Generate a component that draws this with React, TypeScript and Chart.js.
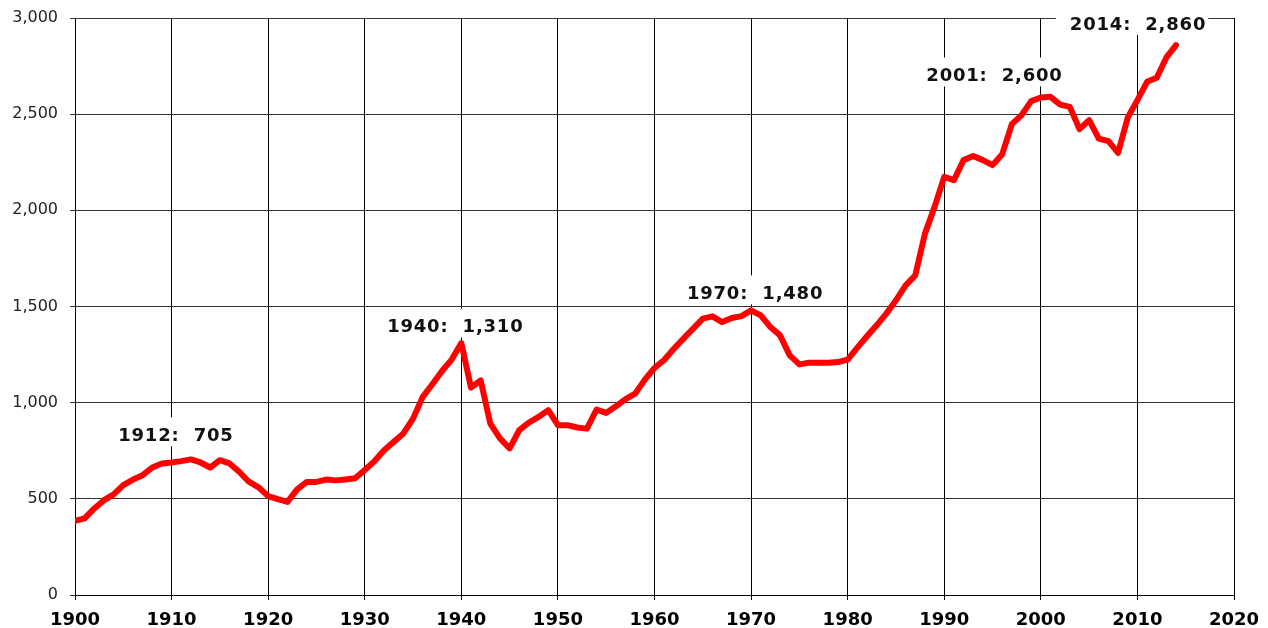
import React, { useEffect, useRef } from "react";
import { Chart, registerables } from "chart.js";

Chart.register(...registerables);

const years: number[] = [];
for (let y = 1900; y <= 2014; y++) years.push(y);

const values: number[] = [
  386, 398, 450, 493, 523, 571, 600, 623, 663, 684,
  689, 696, 705, 689, 663, 701, 684, 641, 589, 560,
  514, 498, 484, 549, 588, 588, 600, 596, 601, 607,
  650, 695, 753, 796, 840, 917, 1030, 1096, 1165, 1224,
  1310, 1078, 1116, 891, 814, 762, 857, 897, 926, 961,
  883, 883, 871, 865, 964, 947, 981, 1018, 1047, 1120,
  1180, 1222, 1280, 1333, 1385, 1437, 1449, 1419, 1440, 1450,
  1480, 1454, 1393, 1350, 1246, 1199, 1208, 1208, 1208, 1211,
  1224, 1286, 1345, 1402, 1463, 1532, 1610, 1662, 1879, 2018,
  2174, 2157, 2261, 2282, 2261, 2235, 2292, 2448, 2495, 2568,
  2587, 2590, 2550, 2538, 2422, 2469, 2373, 2360, 2299, 2483,
  2573, 2668, 2689, 2795, 2859,
];

const annoYears = [1912, 1940, 1970, 2001, 2014];
const annoValues = [705, 1310, 1480, 2600, 2860];
const annoLabels = ["1912:  705", "1940:  1,310", "1970:  1,480", "2001:  2,600", "2014:  2,860"];

// label offsets in pixels (style only)
const annoOffsets: [number, number][] = [
  [-15, -23],
  [-6, -15.5],
  [4, -16],
  [-56, -18.5],
  [-38, -20],
];

const annotationPlugin = {
  id: "annoLabels",
  beforeDatasetsDraw(chart: any) {
    const { ctx, scales } = chart;
    const xs = scales.x;
    const ys = scales.y;
    ctx.save();
    ctx.font = 'bold 18px "DejaVu Sans"';
    (ctx as any).letterSpacing = "0.8px";
    ctx.textAlign = "center";
    ctx.textBaseline = "middle";
    annoYears.forEach((yr, i) => {
      const px = xs.getPixelForValue(yr) + annoOffsets[i][0];
      const py = ys.getPixelForValue(annoValues[i]) + annoOffsets[i][1];
      const w = ctx.measureText(annoLabels[i]).width;
      ctx.fillStyle = "#ffffff";
      ctx.fillRect(px - w / 2 - 14, py - 19, w + 16, 29);
      ctx.fillStyle = "#111111";
      ctx.fillText(annoLabels[i], px, py);
    });
    ctx.restore();
  },
};

export default function App() {
  const ref = useRef<HTMLCanvasElement | null>(null);
  useEffect(() => {
    if (!ref.current) return;
    const chart = new Chart(ref.current, {
      type: "line",
      data: {
        datasets: [
          {
            data: years.map((y, i) => ({ x: y, y: values[i] })),
            borderColor: "#ff0000",
            borderWidth: 6,
            pointRadius: 0,
            tension: 0,
            borderJoinStyle: "round",
            borderCapStyle: "round",
            fill: false,
          },
        ],
      },
      options: {
        responsive: false,
        animation: false,
        layout: { padding: { left: 0, top: 18, right: 34, bottom: 0 } },
        plugins: {
          legend: { display: false },
          tooltip: { enabled: false },
        },
        scales: {
          x: {
            type: "linear",
            min: 1900,
            max: 2020,
            ticks: {
              stepSize: 10,
              padding: 10,
              color: "#000000",
              font: { family: '"DejaVu Sans"', size: 18, weight: "bold" },
              callback: (v: any) => String(v),
              maxRotation: 0,
              autoSkip: false,
            },
            grid: { color: "#000000", lineWidth: 1, tickLength: 5, drawTicks: true },
            border: { display: true, color: "#000000", width: 1 },
            afterFit: (s: any) => {
              s.height = 33;
              s.paddingLeft = 0;
              s.paddingRight = 0;
            },
          },
          y: {
            min: 0,
            max: 3000,
            ticks: {
              stepSize: 500,
              padding: 12,
              color: "#222222",
              font: { family: '"DejaVu Sans"', size: 16 },
              callback: (v: any) => Number(v).toLocaleString("en-US"),
            },
            grid: { color: "#333333", lineWidth: 1, tickLength: 5, drawTicks: true },
            border: { display: true, color: "#000000", width: 1 },
            afterFit: (s: any) => {
              s.width = 75;
              s.paddingTop = 0;
              s.paddingBottom = 0;
            },
          },
        },
      },
      plugins: [annotationPlugin],
    });
    return () => chart.destroy();
  }, []);
  return (
    <div style={{ position: "fixed", left: 0, top: 0, width: 1268, height: 628, background: "#fff" }}>
      <canvas ref={ref} width={1268} height={628} style={{ display: "block" }} />
    </div>
  );
}
